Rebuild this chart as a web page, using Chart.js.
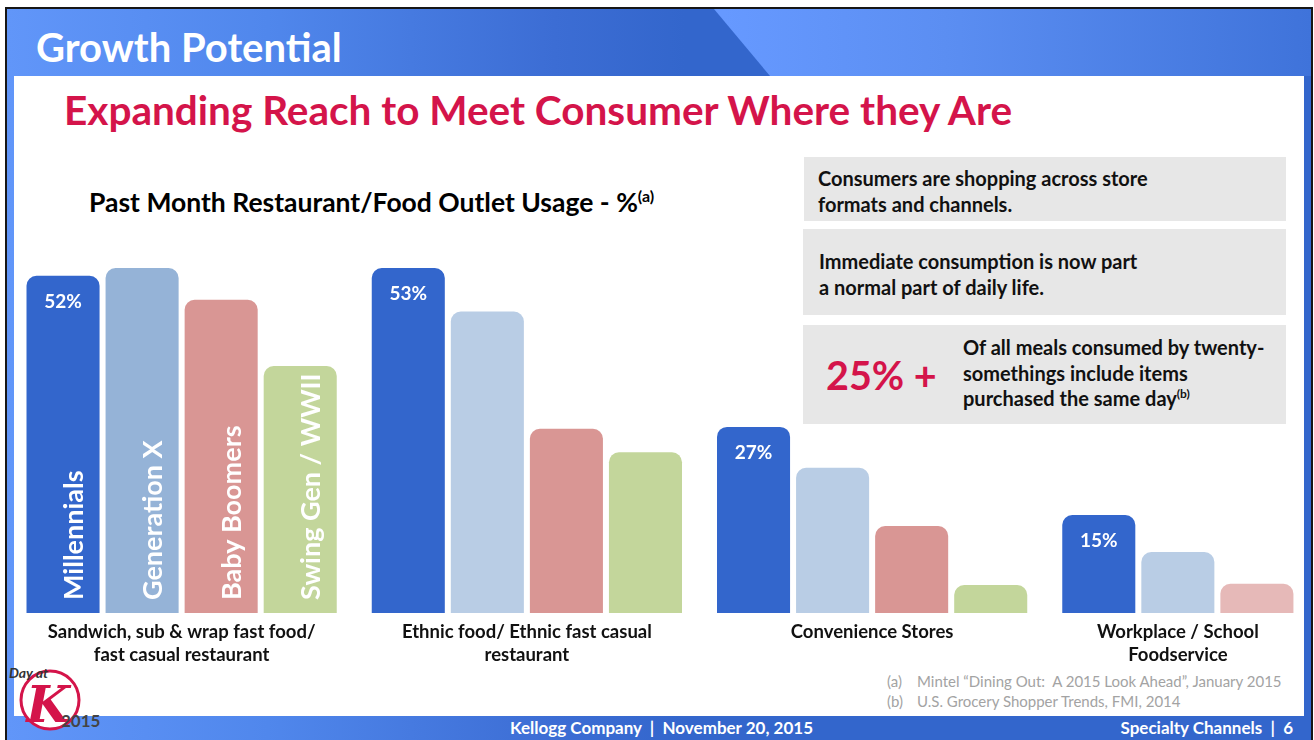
<!DOCTYPE html>
<html>
<head>
<meta charset="utf-8">
<script src="https://cdn.jsdelivr.net/npm/chart.js@4.4.1/dist/chart.umd.min.js"></script>
<style>
  body { margin: 0; width: 1314px; height: 740px; overflow: hidden; position: relative; background: #fff; font-family: Lato, "Open Sans", sans-serif; }
  .abs { position: absolute; }
  sup { line-height: 0; }
  #frame { left: 5px; top: 7px; width: 1304px; height: 740px; border: 2px solid #161616; border-bottom: none;
    background: linear-gradient(90deg, #6196f9 0%, #5087ec 20%, #3c6dd4 42%, #3366cc 52%, #3366cc 100%); }
  #hdrLight { left: 7px; top: 9px; width: 1304px; height: 67px;
    clip-path: polygon(707px 0, 1304px 0, 1304px 67px, 763px 67px);
    background: linear-gradient(90deg, #6699ff 55%, #5b8ef2 72%, #3f73da 100%); }
  #content { left: 14px; top: 76px; width: 1290px; height: 640px; background: #fff; }
  #hdrText { left: 36px; top: 24px; color: #fff; font-size: 40px; font-weight: bold; line-height: 46px; white-space: nowrap; }
  #title { left: 64px; top: 87px; color: #d4144a; font-size: 40.5px; font-weight: bold; line-height: 46px; white-space: nowrap; }
  #chartTitle { left: 89px; top: 187px; font-size: 26.5px; font-weight: bold; line-height: 30px; color: #000; white-space: nowrap; }
  #chartTitle sup { font-size: 16px; }
  .panel { background: #e7e7e7; font-size: 20px; font-weight: bold; color: #111; z-index: 2; box-sizing: border-box; white-space: nowrap; }
  .panel sup { font-size: 12px; }
  #grafico { left: 9px; top: 224px; z-index: 1; }
  .foot { color: #fff; font-size: 17px; font-weight: bold; top: 717px; line-height: 22px; white-space: pre; }
  .note { color: #a3a3a3; font-size: 15px; line-height: 20px; white-space: pre; }
  .logoTxt { font-family: Lato, "DejaVu Sans", sans-serif; font-weight: bold; }
</style>
</head>
<body>
<div id="frame" class="abs"></div>
<div id="hdrLight" class="abs"></div>
<div id="content" class="abs"></div>
<div id="hdrText" class="abs">Growth Potential</div>
<div id="title" class="abs">Expanding Reach to Meet Consumer Where they Are</div>
<div id="chartTitle" class="abs">Past Month Restaurant/Food Outlet Usage - %<sup>(a)</sup></div>

<div class="abs panel" style="left:804px; top:157px; width:482px; height:64px; padding:8px 0 0 14px; line-height:26px;">
  Consumers are shopping across store<br>formats and channels.
</div>
<div class="abs panel" style="left:803px; top:229px; width:483px; height:86px; padding:19px 0 0 16px; line-height:26px;">
  Immediate consumption is now part<br>a normal part of daily life.
</div>
<div class="abs panel" style="left:803px; top:325px; width:483px; height:99px;">
  <div class="abs" style="left:23px; top:27px; color:#d4144a; font-size:39.5px; line-height:46px;">25% +</div>
  <div class="abs" style="left:160px; top:10px; line-height:25.5px;">Of all meals consumed by twenty-<br>somethings include items<br>purchased the same day<sup>(b)</sup></div>
</div>

<canvas id="grafico" class="abs" width="1381" height="449"></canvas>

<div class="abs note" style="left:887px; top:671px;">(a)</div>
<div class="abs note" style="left:917px; top:671px;">Mintel “Dining Out:  A 2015 Look Ahead”, January 2015</div>
<div class="abs note" style="left:887px; top:691px;">(b)</div>
<div class="abs note" style="left:917px; top:691px;">U.S. Grocery Shopper Trends, FMI, 2014</div>

<div class="abs foot" style="left:510px;">Kellogg Company  |  November 20, 2015</div>
<div class="abs foot" style="right:21px;">Specialty Channels  |  6</div>

<svg class="abs" style="left:6px; top:660px;" width="100" height="76">
  <circle cx="44" cy="40" r="29" fill="#fff" stroke="#d4144a" stroke-width="3"/>
  <text x="42" y="62" text-anchor="middle" font-family="DejaVu Serif, serif" font-style="italic" font-weight="bold" font-size="50" fill="#d4144a">K</text>
  <text class="logoTxt" x="3" y="18" font-style="italic" font-size="14" fill="#333">Day at</text>
  <text class="logoTxt" x="55" y="67" font-size="17" fill="#444">2015</text>
</svg>

<script>
// categorias y series
const categories = [
    ["Sandwich, sub & wrap fast food/", "fast casual restaurant"],
    ["Ethnic food/ Ethnic fast casual", "restaurant"],
    ["Convenience Stores"],
    ["Workplace / School", "Foodservice"]
];
const seriesNames = ["Millennials", "Generation X", "Baby Boomers", "Swing Gen / WWII"];

// percentages
const millennials = [52, 53.2, 28.7, 15.1];
const generationX = [53.2, 46.5, 22.4, 9.4];
const babyBoomers = [48.3, 28.4, 13.4, 4.5];
const swingGen = [38.1, 24.8, 4.3, null];

// printed labels inside the Millennials bars
const millennialLabels = ["52%", "53%", "27%", "15%"];

const FONT = "Lato, 'Open Sans', sans-serif";

// draws the % labels, the rotated series names and the category names
const barText = {
    id: "barText",
    afterDatasetsDraw(chart) {
        const ctx = chart.ctx;
        ctx.save();
        ctx.fillStyle = "#fff";
        ctx.textAlign = "center";
        ctx.textBaseline = "middle";
        ctx.font = "bold 19px " + FONT;
        chart.getDatasetMeta(0).data.forEach((bar, i) => {
            ctx.fillText(millennialLabels[i], bar.x, bar.y + 26);
        });

        ctx.font = "bold 27px " + FONT;
        ctx.textAlign = "left";
        ctx.textBaseline = "alphabetic";
        chart.data.datasets.forEach((ds, d) => {
            const bar = chart.getDatasetMeta(d).data[0];
            ctx.save();
            ctx.translate(bar.x + 20, bar.base - 13);
            ctx.rotate(-Math.PI / 2);
            ctx.fillText(ds.label, 0, 0);
            ctx.restore();
        });

        ctx.fillStyle = "#111";
        ctx.textAlign = "center";
        ctx.textBaseline = "middle";
        ctx.font = "bold 18.5px " + FONT;
        categories.forEach((lines, i) => {
            let left = Infinity, right = -Infinity;
            chart.data.datasets.forEach((ds, d) => {
                if (ds.data[i] == null) return;
                const b = chart.getDatasetMeta(d).data[i];
                left = Math.min(left, b.x - b.width / 2);
                right = Math.max(right, b.x + b.width / 2);
            });
            const cx = (left + right) / 2;
            lines.forEach((t, k) => ctx.fillText(t, cx, chart.chartArea.bottom + 19 + k * 23));
        });
        ctx.restore();
    }
};

const ctx = document.getElementById("grafico").getContext("2d");
window.myChart = new Chart(ctx, {
    type: "bar",
    data: {
        labels: categories.map(c => c.join(" ")),
        datasets: [
            { label: seriesNames[0], data: millennials, backgroundColor: "#3366cc" },
            { label: seriesNames[1], data: generationX, backgroundColor: ["#95b3d7", "#b9cde5", "#b9cde5", "#b9cde5"] },
            { label: seriesNames[2], data: babyBoomers, backgroundColor: ["#d99694", "#d99694", "#d99694", "#e6b9b8"] },
            { label: seriesNames[3], data: swingGen, backgroundColor: "#c3d69b" }
        ]
    },
    options: {
        responsive: false,
        animation: false,
        layout: { padding: { bottom: 60 } },
        datasets: {
            bar: { categoryPercentage: 0.916, barPercentage: 0.924, borderRadius: 10, borderSkipped: "start" }
        },
        plugins: { legend: { display: false }, tooltip: { enabled: false } },
        scales: {
            x: { display: false },
            y: { display: false, min: 0, max: 60 }
        }
    },
    plugins: [barText]
});
</script>
</body>
</html>
